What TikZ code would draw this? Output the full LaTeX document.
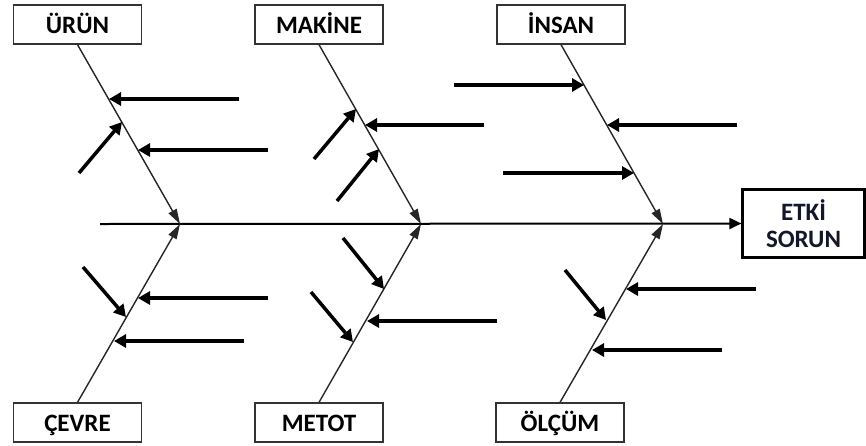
\documentclass[tikz,border=0pt]{standalone}
\usepackage{fontspec}
\setmainfont{Carlito}
\usetikzlibrary{arrows.meta, positioning}
\definecolor{effectblue}{rgb}{0.08,0.09,0.16}

\begin{document}
\begin{tikzpicture}[
    x=1pt, y=-1pt,
    catbox/.style = {rectangle, draw=black!80, line width=1.3pt, minimum width=128pt, text height=28pt, text depth=11pt, inner sep=0pt, font=\fontsize{25}{28}\selectfont\bfseries},
    effectbox/.style = {rectangle, draw=black, line width=2.2pt, minimum width=122pt, minimum height=68pt, inner sep=0pt, align=center, text=effectblue, font=\fontsize{25}{27}\selectfont\bfseries},
    spine/.style = {draw=black, line width=2pt, -{Triangle[length=12pt, width=11pt]}},
    bone/.style = {draw=black!85, line width=1.4pt, -{Triangle[length=15pt, width=9pt]}},
    cause/.style = {draw=black, line width=3.5pt, -{Triangle[length=12pt, width=13pt]}}
]
\useasboundingbox (0,0) rectangle (866,445);

% Category boxes, top row and bottom row
\node (urun)   [catbox] at (77.5, 24.5)  {ÜRÜN};
\node (makine) [catbox] at (319, 24.5)   {MAKİNE};
\node (insan)  [catbox] at (561, 24.5)   {İNSAN};
\node (cevre)  [catbox] at (77.5, 422.5) {ÇEVRE};
\node (metot)  [catbox] at (319, 422.5)  {METOT};
\node (olcum)  [catbox] at (560, 422.5)  {ÖLÇÜM};

% Effect box at the head
\node (etki) [effectbox] at (803.5, 223.5) {ETKİ\\SORUN};

% Spine and the joints where the bones meet it
\coordinate (tail) at (100, 224);
\coordinate (j1) at (180, 224);
\coordinate (j2) at (421, 224);
\coordinate (j3) at (663, 224);
\draw [spine] (tail) -- (etki.west);

% Main bones
\draw [bone] (urun.south)   -- (j1);
\draw [bone] (cevre.north)  -- (j1);
\draw [bone] (makine.south) -- (j2);
\draw [bone] (metot.north)  -- (j2);
\draw [bone] (insan.south)  -- (j3);
\draw [bone] (olcum.north)  -- (j3);

% Causes on ÜRÜN
\coordinate (u1s) at (239, 99);  \coordinate (u1) at (109, 99);
\coordinate (u2s) at (79, 173);  \coordinate (u2) at (122, 122);
\coordinate (u3s) at (268, 150); \coordinate (u3) at (138, 150);
\draw [cause] (u1s) -- (u1);
\draw [cause] (u2s) -- (u2);
\draw [cause] (u3s) -- (u3);

% Causes on MAKİNE
\coordinate (m1s) at (314, 159); \coordinate (m1) at (356, 109);
\coordinate (m2s) at (484, 125); \coordinate (m2) at (365, 125);
\coordinate (m3s) at (337, 201); \coordinate (m3) at (379, 149);
\draw [cause] (m1s) -- (m1);
\draw [cause] (m2s) -- (m2);
\draw [cause] (m3s) -- (m3);

% Causes on İNSAN
\coordinate (i1s) at (454, 85);  \coordinate (i1) at (584, 85);
\coordinate (i2s) at (737, 125); \coordinate (i2) at (607, 125);
\coordinate (i3s) at (503, 173); \coordinate (i3) at (634, 173);
\draw [cause] (i1s) -- (i1);
\draw [cause] (i2s) -- (i2);
\draw [cause] (i3s) -- (i3);

% Causes on ÇEVRE
\coordinate (c1s) at (83, 267);  \coordinate (c1) at (126, 317);
\coordinate (c2s) at (268, 298); \coordinate (c2) at (138, 298);
\coordinate (c3s) at (244, 341); \coordinate (c3) at (114, 341);
\draw [cause] (c1s) -- (c1);
\draw [cause] (c2s) -- (c2);
\draw [cause] (c3s) -- (c3);

% Causes on METOT
\coordinate (t1s) at (343, 238); \coordinate (t1) at (384, 289);
\coordinate (t2s) at (311, 292); \coordinate (t2) at (353, 342);
\coordinate (t3s) at (497, 321); \coordinate (t3) at (367, 321);
\draw [cause] (t1s) -- (t1);
\draw [cause] (t2s) -- (t2);
\draw [cause] (t3s) -- (t3);

% Causes on ÖLÇÜM
\coordinate (o1s) at (565, 270); \coordinate (o1) at (606, 320);
\coordinate (o2s) at (756, 289); \coordinate (o2) at (626, 289);
\coordinate (o3s) at (722, 350); \coordinate (o3) at (592, 350);
\draw [cause] (o1s) -- (o1);
\draw [cause] (o2s) -- (o2);
\draw [cause] (o3s) -- (o3);

\end{tikzpicture}
\end{document}
